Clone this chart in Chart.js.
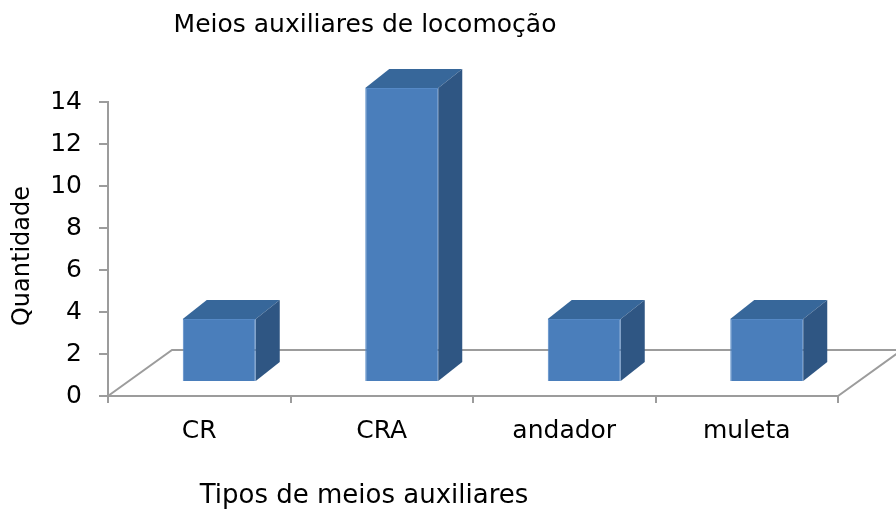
<!DOCTYPE html>
<html>
<head>
<meta charset="utf-8">
<script src="https://cdn.jsdelivr.net/npm/chart.js@4/dist/chart.umd.min.js"></script>
<style>
  html, body { margin:0; padding:0; background:#fff; }
  #wrap { position:relative; width:896px; height:510px; }
</style>
</head>
<body>
<div id="wrap"><canvas id="grafico" width="896" height="510"></canvas></div>
<script>
// ── dados ──
const categorias  = ['CR', 'CRA', 'andador', 'muleta'];
const quantidades = [3, 14, 3, 3];
const marcasY     = [0, 2, 4, 6, 8, 10, 12, 14];
const titulo      = 'Meios auxiliares de locomoção';
const tituloX     = 'Tipos de meios auxiliares';
const tituloY     = 'Quantidade';

// ── estilo ──
const FONTE   = "'DejaVu Sans', sans-serif";
const CINZA   = '#9c9c9c';
const FRENTE  = '#4A7EBB';
const BORDA   = '#5589C6';
const TOPO    = '#37679A';
const LADO    = '#2F5683';
const CHAO    = { dx: 64, dy: 46 };   // profundidade do piso
const BARRA   = { ox: 20, oy: 14 };   // deslocamento da face frontal
const PROF    = { dx: 24, dy: 19 };   // profundidade da barra

const caixa3d = {
  id: 'caixa3d',
  beforeDatasetsDraw(chart) {
    const { ctx, chartArea: a } = chart;
    ctx.save();
    ctx.strokeStyle = CINZA;
    ctx.lineWidth = 2;
    ctx.beginPath();
    ctx.moveTo(a.left, a.bottom);
    ctx.lineTo(a.left + CHAO.dx, a.bottom - CHAO.dy);
    ctx.lineTo(chart.width + 10, a.bottom - CHAO.dy);
    ctx.moveTo(a.right, a.bottom);
    ctx.lineTo(a.right + CHAO.dx, a.bottom - CHAO.dy);
    ctx.stroke();
    ctx.restore();
  },
  beforeDatasetDraw(chart) {
    chart.ctx.save();
    chart.ctx.translate(BARRA.ox, -BARRA.oy);
  },
  afterDatasetDraw(chart, args) {
    const ctx = chart.ctx;
    ctx.restore();
    args.meta.data.forEach(el => {
      const { x, y, base, width } = el.getProps(['x', 'y', 'base', 'width'], true);
      const l = x - width / 2 + BARRA.ox, r = x + width / 2 + BARRA.ox;
      const t = y - BARRA.oy, b = base - BARRA.oy;
      ctx.save();
      ctx.fillStyle = TOPO;
      ctx.beginPath();
      ctx.moveTo(l, t); ctx.lineTo(l + PROF.dx, t - PROF.dy);
      ctx.lineTo(r + PROF.dx, t - PROF.dy); ctx.lineTo(r, t);
      ctx.closePath(); ctx.fill();
      ctx.fillStyle = LADO;
      ctx.beginPath();
      ctx.moveTo(r, t); ctx.lineTo(r + PROF.dx, t - PROF.dy);
      ctx.lineTo(r + PROF.dx, b - PROF.dy); ctx.lineTo(r, b);
      ctx.closePath(); ctx.fill();
      ctx.restore();
    });
  }
};

const titulos = {
  id: 'titulos',
  afterDraw(chart) {
    const ctx = chart.ctx;
    ctx.save();
    ctx.fillStyle = '#000';
    ctx.textAlign = 'center';
    ctx.textBaseline = 'middle';
    ctx.font = '25px ' + FONTE;
    ctx.fillText(titulo, 365, 25);
    ctx.font = '26px ' + FONTE;
    ctx.fillText(tituloX, 364, 496);
    ctx.translate(23, 256);
    ctx.rotate(-Math.PI / 2);
    ctx.font = '24px ' + FONTE;
    ctx.fillText(tituloY, 0, 0);
    ctx.restore();
  }
};

new Chart(document.getElementById('grafico'), {
  type: 'bar',
  data: {
    labels: categorias,
    datasets: [{
      data: quantidades,
      backgroundColor: FRENTE,
      borderColor: BORDA,
      borderWidth: 1,
      categoryPercentage: 1,
      barPercentage: 0.4,
      clip: false
    }]
  },
  options: {
    responsive: false,
    animation: false,
    events: [],
    layout: { padding: { top: 102, right: 58, bottom: 0, left: 0 } },
    plugins: { legend: { display: false }, tooltip: { enabled: false } },
    scales: {
      x: {
        afterFit: s => { s.height = 114; },
        grid: { drawOnChartArea: false, offset: true, tickLength: 7, color: CINZA, lineWidth: 2 },
        border: { color: CINZA, width: 2 },
        ticks: { color: '#000', font: { family: FONTE, size: 25 }, padding: 13 }
      },
      y: {
        min: 0, max: 14,
        afterFit: s => { s.width = 108; },
        afterBuildTicks: s => { s.ticks = marcasY.map(v => ({ value: v })); },
        grid: { drawOnChartArea: false, tickLength: 9, color: CINZA, lineWidth: 2 },
        border: { color: CINZA, width: 2 },
        ticks: { color: '#000', font: { family: FONTE, size: 25 }, padding: 17 }
      }
    }
  },
  plugins: [caixa3d, titulos]
});
</script>
</body>
</html>
